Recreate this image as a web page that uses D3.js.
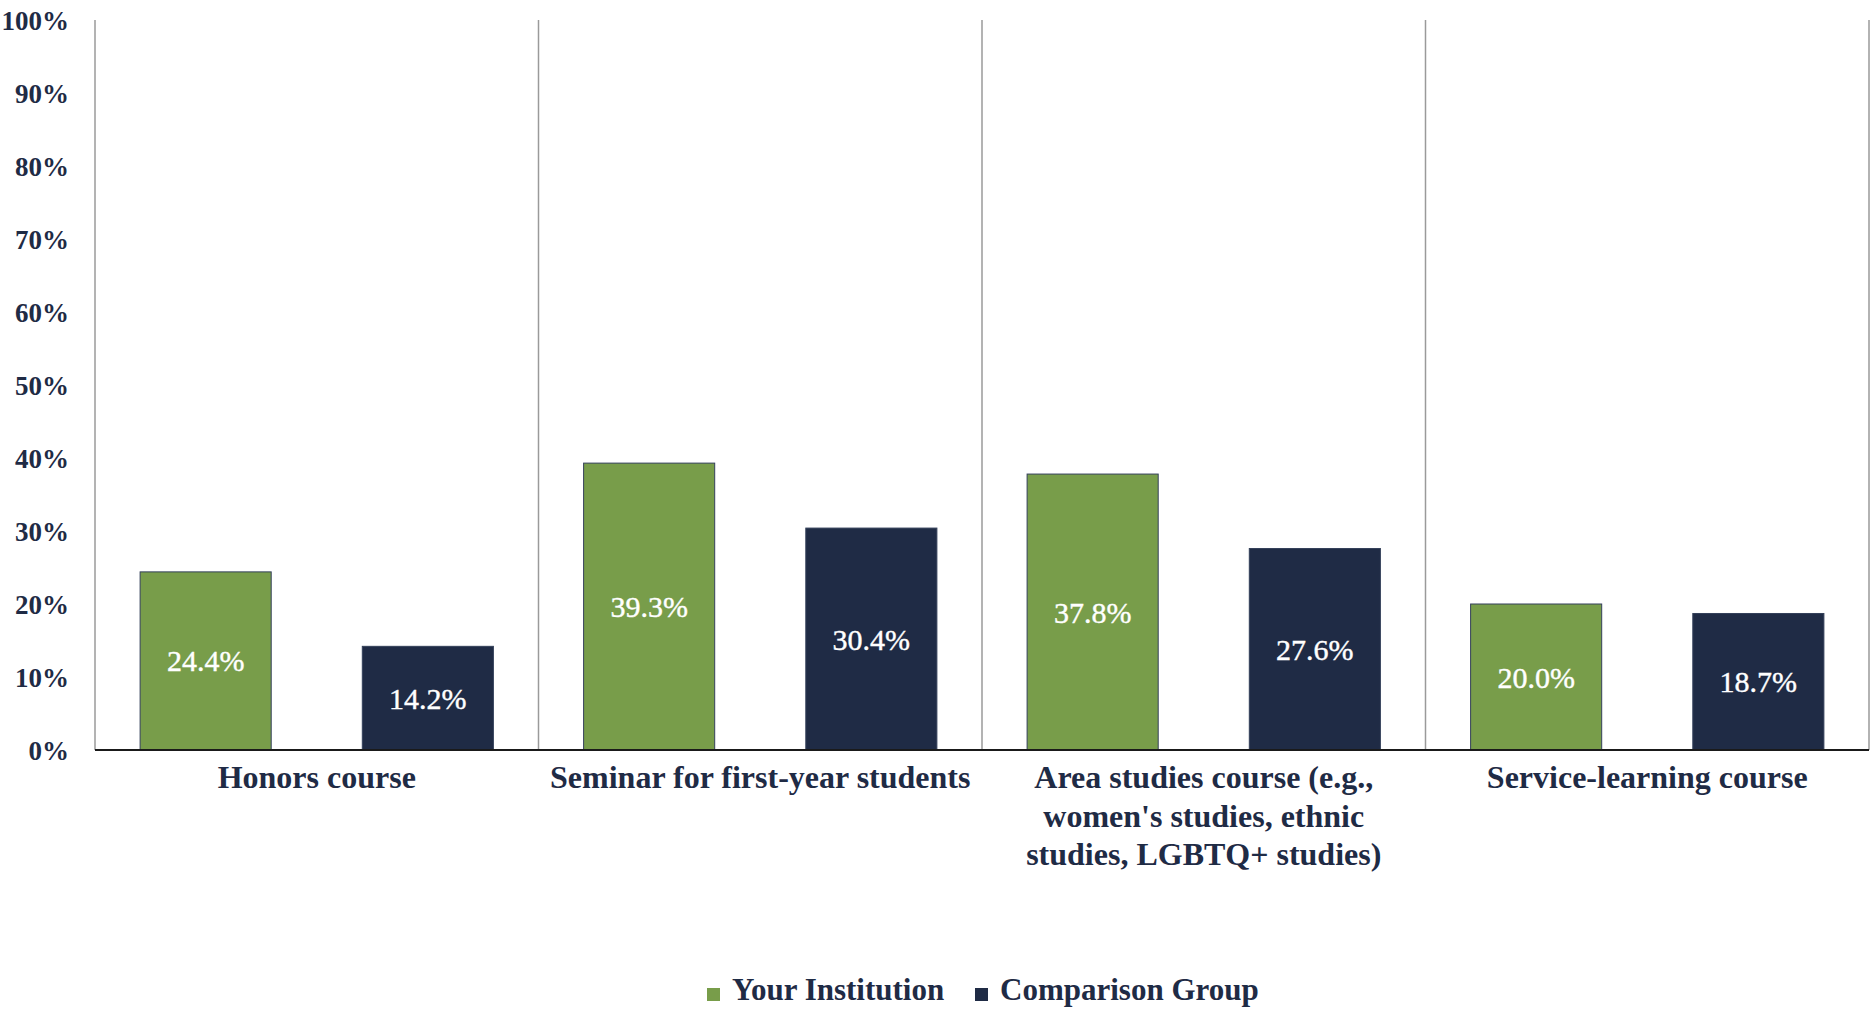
<!DOCTYPE html>
<html>
<head>
<meta charset="utf-8">
<script src="https://cdn.jsdelivr.net/npm/d3@7"></script>
<style>
  body { margin: 0; background: #fff; }
  text { font-family: "Liberation Serif", "DejaVu Serif", serif; fill: #1f2b45; }
</style>
</head>
<body>
<div id="chart"></div>
<script>
// Chart data
var categories = [
  "Honors course",
  "Seminar for first-year students",
  "Area studies course (e.g., women's studies, ethnic studies, LGBTQ+ studies)",
  "Service-learning course"
];
var seriesNames = ["Your Institution", "Comparison Group"];
var yourInstitution = [24.4, 39.3, 37.8, 20.0];
var comparisonGroup = [14.2, 30.4, 27.6, 18.7];
var yTicks = [0, 10, 20, 30, 40, 50, 60, 70, 80, 90, 100];

var colors = ["#789d4a", "#1f2b45"];

var svgWidth = 1874;
var svgHeight = 1009;

var margin = { top: 20, right: 5, bottom: 259, left: 95 };
var width = svgWidth - margin.left - margin.right;
var height = svgHeight - margin.top - margin.bottom;

var svg = d3.select("#chart")
  .append("svg")
  .attr("width", svgWidth)
  .attr("height", svgHeight);

var chartGroup = svg.append("g")
  .attr("transform", `translate(${margin.left}, ${margin.top})`);

// Scales
var x0 = d3.scaleBand().domain(categories).range([0, width]).padding(0);
var x1 = d3.scaleBand().domain(seriesNames).range([0, x0.bandwidth()])
  .paddingInner(0.41).paddingOuter(0.203);
var y = d3.scaleLinear().domain([0, 100]).range([height, 0]);

// Build rows from the arrays
var rows = categories.map(function(c, i) {
  return { cat: c, values: [
    { name: seriesNames[0], value: yourInstitution[i] },
    { name: seriesNames[1], value: comparisonGroup[i] }
  ]};
});

// Vertical separators between categories
var seps = categories.map(function(c) { return x0(c); }).concat([width]);
chartGroup.selectAll("line.sep")
  .data(seps)
  .enter()
  .append("line")
  .attr("class", "sep")
  .attr("x1", d => d).attr("x2", d => d)
  .attr("y1", y(100)).attr("y2", y(0))
  .attr("stroke", "#9a9a9a")
  .attr("stroke-width", 1.5);

// Y axis labels (no line, no ticks)
var yAxis = d3.axisLeft(y)
  .tickValues(yTicks)
  .tickFormat(d => d + "%")
  .tickSize(0)
  .tickPadding(26);

var yg = chartGroup.append("g").call(yAxis);
yg.select(".domain").remove();
yg.selectAll("text")
  .style("font-family", '"Liberation Serif", serif')
  .style("font-size", "27px")
  .style("font-weight", "bold")
  .attr("fill", "#1f2b45")
  .attr("dy", "0.35em");

// Bars
var groups = chartGroup.selectAll("g.cat")
  .data(rows)
  .enter()
  .append("g")
  .attr("class", "cat")
  .attr("transform", d => `translate(${x0(d.cat)},0)`);

groups.selectAll("rect")
  .data(d => d.values)
  .enter()
  .append("rect")
  .attr("x", d => x1(d.name))
  .attr("y", d => y(d.value))
  .attr("width", x1.bandwidth())
  .attr("height", d => y(0) - y(d.value))
  .attr("fill", (d, i) => colors[i])
  .attr("stroke", "#34405a")
  .attr("stroke-width", 1);

groups.selectAll("text.val")
  .data(d => d.values)
  .enter()
  .append("text")
  .attr("class", "val")
  .attr("x", d => x1(d.name) + x1.bandwidth() / 2)
  .attr("y", d => (y(d.value) + y(0)) / 2)
  .attr("dy", "0.35em")
  .attr("text-anchor", "middle")
  .style("font-size", "30px")
  .style("fill", "#ffffff")
  .style("stroke", "#ffffff")
  .style("stroke-width", 0.4)
  .text(d => d.value.toFixed(1) + "%");

// Baseline
chartGroup.append("line")
  .attr("x1", 0).attr("x2", width)
  .attr("y1", y(0)).attr("y2", y(0))
  .attr("stroke", "#1a1a1a")
  .attr("stroke-width", 2);

// Category labels with wrapping
var catLabels = chartGroup.selectAll("text.cat")
  .data(categories)
  .enter()
  .append("text")
  .attr("class", "cat")
  .attr("x", d => x0(d) + x0.bandwidth() / 2)
  .attr("y", height + 38)
  .attr("text-anchor", "middle")
  .style("font-size", "32px")
  .style("font-weight", "bold")
  .text(d => d);

function wrap(text, maxWidth) {
  text.each(function() {
    var t = d3.select(this);
    var words = t.text().split(/\s+/);
    var xPos = t.attr("x");
    var yPos = t.attr("y");
    t.text(null);
    var line = [];
    var lineNo = 0;
    var tspan = t.append("tspan").attr("x", xPos).attr("y", yPos);
    words.forEach(function(w) {
      line.push(w);
      tspan.text(line.join(" "));
      if (tspan.node().getComputedTextLength() > maxWidth && line.length > 1) {
        line.pop();
        tspan.text(line.join(" "));
        line = [w];
        lineNo++;
        tspan = t.append("tspan").attr("x", xPos)
          .attr("y", +yPos + lineNo * 38.5).text(w);
      }
    });
  });
}
catLabels.call(wrap, x0.bandwidth() - 20);

// Legend
var legend = svg.append("g").attr("transform", "translate(707, 1000)");
var legendX = [0, 268];
seriesNames.forEach(function(name, i) {
  var g = legend.append("g").attr("transform", `translate(${legendX[i]},0)`);
  g.append("rect")
    .attr("x", 0).attr("y", -12)
    .attr("width", 13).attr("height", 13)
    .attr("fill", colors[i]);
  g.append("text")
    .attr("x", 25).attr("y", 0)
    .style("font-size", "31px")
    .style("font-weight", "bold")
    .text(name);
});
</script>
</body>
</html>
